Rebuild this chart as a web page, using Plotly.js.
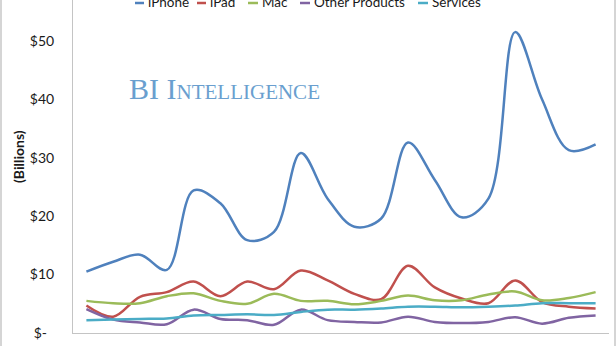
<!DOCTYPE html>
<html>
<head>
<meta charset="utf-8">
<script src="https://cdn.plot.ly/plotly-3.0.1.min.js"></script>
<style>
html,body{margin:0;padding:0;background:#fff;}
#chart{width:616px;height:346px;}
</style>
</head>
<body>
<div id="chart"></div>
<script>
// ---- data ----
var quarters = ["Q1 FY11","Q2 FY11","Q3 FY11","Q4 FY11","Q1 FY12","Q2 FY12","Q3 FY12","Q4 FY12",
                "Q1 FY13","Q2 FY13","Q3 FY13","Q4 FY13","Q1 FY14","Q2 FY14","Q3 FY14","Q4 FY14",
                "Q1 FY15","Q2 FY15","Q3 FY15","Q4 FY15"];
var iphone   = [10.5, 12.2, 13.4, 10.8, 24.4, 22.2, 15.9, 17.3, 30.8, 23.0, 18.2, 19.6, 32.6, 26.2, 19.8, 23.0, 51.5, 40.0, 31.3, 32.3];
var ipad     = [4.7, 2.8, 6.2, 7.0, 8.8, 6.3, 8.8, 7.5, 10.7, 9.0, 6.7, 5.8, 11.5, 7.8, 5.9, 5.1, 9.0, 5.3, 4.5, 4.2];
var mac      = [5.5, 5.1, 5.1, 6.3, 6.8, 5.5, 5.0, 6.7, 5.5, 5.5, 4.9, 5.5, 6.4, 5.6, 5.6, 6.6, 7.1, 5.6, 6.0, 7.0];
var other    = [4.1, 2.3, 1.8, 1.5, 4.0, 2.4, 2.2, 1.4, 4.0, 2.2, 1.9, 1.8, 2.8, 1.9, 1.7, 1.9, 2.7, 1.6, 2.6, 3.0];
var services = [2.2, 2.3, 2.4, 2.5, 3.0, 3.1, 3.2, 3.1, 3.6, 4.0, 4.0, 4.2, 4.5, 4.5, 4.4, 4.5, 4.7, 5.1, 5.1, 5.1];
var seriesNames = ["iPhone", "iPad", "Mac", "Other Products", "Services"];
var yTickVals = [0, 10, 20, 30, 40, 50];
var yTickText = ["$-\u00a0\u00a0", "$10", "$20", "$30", "$40", "$50"];
var yTitle = "(Billions)";
var watermark = "BI Intelligence";

// ---- styles ----
var colors = ["#4F81BD", "#C0504D", "#9BBB59", "#8064A2", "#4BACC6"];
var seriesData = [iphone, ipad, mac, other, services];
var FONT = "Lato, 'Open Sans', sans-serif";

var L = 73, R = 609, T = 0, B = 333;
function px2x(px){ return (px - L) / (R - L); }
function px2y(py){ return (B - py) / (B - T); }

var traces = seriesData.map(function(vals, i){
  return {
    x: quarters, y: vals, name: seriesNames[i], type: "scatter", mode: "lines",
    line: {color: colors[i], width: 2.5, shape: "spline", smoothing: 1},
    hoverinfo: "skip"
  };
});

// legend (drawn manually to match Excel's compact legend)
var legLineX = [[135,144],[197,206],[248,258],[300,310],[418,428]];
var legTextX = [146, 208, 260, 312, 430];
var shapes = [];
var annotations = [];
seriesNames.forEach(function(n, i){
  shapes.push({type:"line", xref:"paper", yref:"paper",
    x0:px2x(legLineX[i][0]), x1:px2x(legLineX[i][1]), y0:px2y(3), y1:px2y(3),
    line:{color:colors[i], width:2.5}});
  annotations.push({text:n, xref:"paper", yref:"paper", x:px2x(legTextX[i]), y:px2y(2),
    xanchor:"left", yanchor:"middle", showarrow:false,
    font:{family:FONT, size:13.5, color:"#1a1a1a"}});
});
// outer frame (left and right edges)
shapes.push({type:"line", xref:"paper", yref:"paper", x0:px2x(1), x1:px2x(1), y0:-0.1, y1:1.05, line:{color:"#ababab", width:1}});
shapes.push({type:"line", xref:"paper", yref:"paper", x0:px2x(615), x1:px2x(615), y0:-0.1, y1:1.05, line:{color:"#ababab", width:1}});

annotations.push({text:yTitle, xref:"paper", yref:"paper", x:px2x(18), y:px2y(157),
  xanchor:"center", yanchor:"middle", textangle:-90, showarrow:false,
  font:{family:FONT, size:14, color:"#1a1a1a", weight:"bold"}});
annotations.push({text:watermark, xref:"paper", yref:"paper", x:px2x(127), y:px2y(89),
  xanchor:"left", yanchor:"middle", showarrow:false,
  font:{family:"'Liberation Serif', 'DejaVu Serif', serif", size:30, color:"#6a9fcf", variant:"small-caps"}});

var layout = {
  width: 616, height: 346,
  margin: {l: L, r: 616 - R, t: T, b: 346 - B, pad: 0},
  paper_bgcolor: "#ffffff", plot_bgcolor: "#ffffff",
  showlegend: false,
  xaxis: {type:"category", range:[-0.5, 19.5], showticklabels:false, showline:true,
          linecolor:"#c4c4c4", linewidth:1, showgrid:false, zeroline:false, ticks:"", fixedrange:true},
  yaxis: {range:[0, 57.0], tickvals:yTickVals, ticktext:yTickText, showline:true,
          linecolor:"#c4c4c4", linewidth:1, showgrid:false, zeroline:false, ticks:"",
          ticklabelstandoff:15, tickfont:{family:FONT, size:14, color:"#1a1a1a"}, fixedrange:true},
  shapes: shapes,
  annotations: annotations
};

Plotly.newPlot("chart", traces, layout, {displayModeBar:false, staticPlot:true});
</script>
</body>
</html>
